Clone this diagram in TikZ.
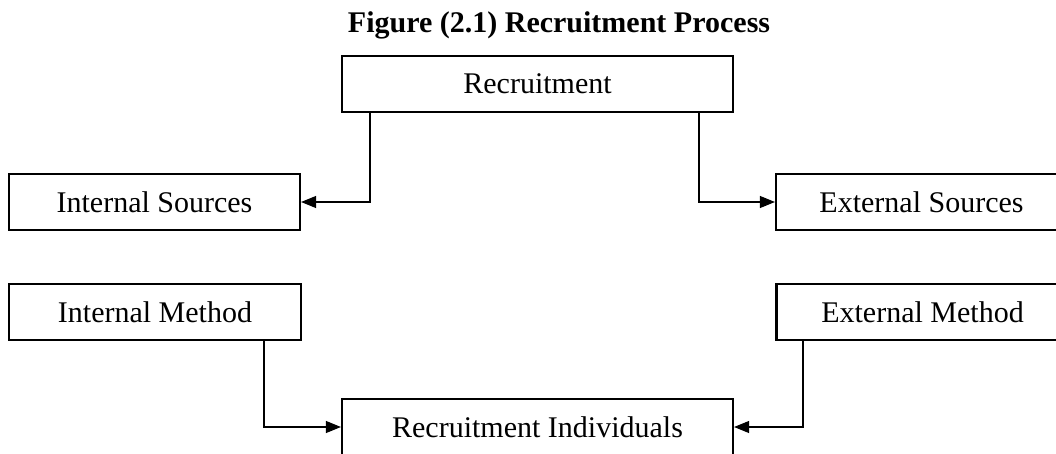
\documentclass[tikz,border=0pt]{standalone}
\usepackage{fontspec}
\setmainfont{Liberation Serif}
\usetikzlibrary{arrows.meta}

\begin{document}
\begin{tikzpicture}[x=1pt,y=1pt,>={Triangle[length=15pt,width=12pt]},
    box/.style={draw,line width=2.2pt,minimum height=56pt,inner sep=0pt,font=\fontsize{30}{36}\selectfont},
    link/.style={line width=1.1pt,->}]
            %Frame of the picture
            \clip (0,0) rectangle (1056,453);

            %Title
            \node[anchor=base,font=\fontsize{30}{36}\selectfont\bfseries] (title) at (559,420) {Figure (2.1) Recruitment Process};

            %Recruitment box at the top
            \node[box,minimum width=391pt] (recruit) at (537.5,369) {Recruitment};

            %Sources
            \node[box,minimum width=291pt] (intsrc) at (154.5,251) {Internal Sources};
            \node[box,minimum width=291pt] (extsrc) at (921.5,251) {External Sources};

            %Methods
            \node[box,minimum width=292pt] (intmeth) at (155,141) {Internal Method};
            \node[box,minimum width=292pt] (extmeth) at (922.5,141) {External Method};

            %Recruitment individuals box at the bottom
            \node[box,minimum width=391pt] (indiv) at (537.5,26) {Recruitment Individuals};

            %x positions of the vertical lines
            \coordinate (R1) at (370,0);
            \coordinate (R2) at (699,0);
            \coordinate (M1) at (264,0);
            \coordinate (M2) at (803,0);

            %from recruitment to the sources
            \draw[link] (recruit.south -| R1) |- (intsrc.east);
            \draw[link] (recruit.south -| R2) |- (extsrc.west);

            %from the methods to the individuals
            \draw[link] (intmeth.south -| M1) |- (indiv.west);
            \draw[link] (extmeth.south -| M2) |- (indiv.east);
\end{tikzpicture}
\end{document}
